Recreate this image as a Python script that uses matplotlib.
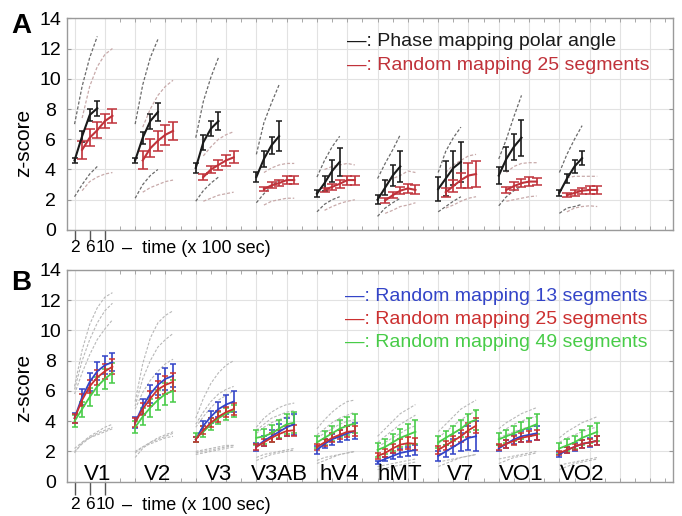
import matplotlib
matplotlib.use("Agg")
import matplotlib.pyplot as plt
import numpy as np
from matplotlib.ticker import MultipleLocator
from matplotlib.transforms import blended_transform_factory, ScaledTranslation

plt.rcParams["font.family"] = ["Liberation Sans", "DejaVu Sans"]

# ---- data ----
REGIONS = ["V1", "V2", "V3", "V3AB", "hV4", "hMT", "V7", "VO1", "VO2"]
GROUP_STEP = 16
PHASE_T = [2, 4, 6, 8]
RAND_T = [4, 6, 8, 10, 12]
B_T = [2, 4, 6, 8, 10, 12]

# panel A: phase mapping (black) vs random mapping 25 segments (red)
A_PHASE = [
    [4.6, 6.2, 7.6, 8.05], [4.6, 6.1, 7.2, 7.8], [4.1, 5.8, 6.7, 7.2],
    [3.5, 4.7, 5.6, 6.2], [2.4, 3.1, 3.9, 4.5], [2.0, 2.8, 3.6, 4.2],
    [2.7, 3.4, 4.1, 4.5], [3.6, 4.7, 5.5, 6.1], [2.45, 3.4, 4.2, 4.75],
]
A_PHASE_ERR = [
    [0.15, 0.35, 0.4, 0.5], [0.15, 0.4, 0.5, 0.6], [0.3, 0.5, 0.5, 0.6],
    [0.35, 0.55, 0.55, 1.0], [0.25, 0.5, 0.7, 0.95], [0.3, 0.5, 0.7, 1.0],
    [0.8, 1.15, 1.1, 1.35], [0.55, 0.8, 0.85, 1.2], [0.2, 0.3, 0.4, 0.45],
]
A_RAND = [
    [5.3, 6.1, 6.6, 7.2, 7.55], [4.6, 5.4, 5.9, 6.3, 6.55], [3.5, 4.0, 4.3, 4.6, 4.8],
    [2.7, 2.95, 3.1, 3.3, 3.3], [2.65, 2.85, 3.05, 3.3, 3.3], [1.95, 2.3, 2.6, 2.75, 2.65],
    [2.5, 2.9, 3.3, 3.6, 3.7], [2.65, 2.9, 3.1, 3.2, 3.2], [2.3, 2.45, 2.6, 2.65, 2.65],
]
A_RAND_ERR = [
    [0.6, 0.55, 0.55, 0.45, 0.45], [0.6, 0.6, 0.65, 0.65, 0.6], [0.2, 0.25, 0.35, 0.35, 0.4],
    [0.15, 0.2, 0.2, 0.25, 0.25], [0.15, 0.2, 0.25, 0.3, 0.3], [0.15, 0.2, 0.25, 0.3, 0.3],
    [0.3, 0.4, 0.5, 0.8, 0.85], [0.2, 0.25, 0.25, 0.3, 0.25], [0.15, 0.2, 0.2, 0.25, 0.25],
]
A_PHASE_HI = [
    [7.0, 9.5, 11.4, 12.8], [7.0, 9.6, 11.4, 12.6], [6.1, 8.5, 10.1, 11.4],
    [5.0, 7.1, 8.4, 9.6], [3.5, 4.6, 5.5, 6.2], [3.4, 4.4, 5.3, 6.3],
    [3.8, 5.2, 6.1, 6.8], [4.7, 6.0, 7.5, 8.9], [3.8, 5.0, 6.0, 6.9],
]
A_PHASE_LO = [
    [2.2, 3.0, 3.7, 4.2], [2.1, 3.0, 3.6, 4.0], [1.9, 2.6, 3.1, 3.5],
    [1.8, 2.4, 2.9, 3.3], [1.2, 1.7, 2.0, 2.2], [0.9, 1.45, 1.8, 2.1],
    [1.2, 1.55, 1.9, 2.2], [1.6, 2.2, 2.6, 2.9], [1.1, 1.45, 1.55, 1.7],
]
A_RAND_HI = [
    [7.4, 9.5, 10.8, 11.6, 12.0], [6.8, 8.0, 8.9, 9.5, 9.9], [4.9, 5.5, 6.0, 6.3, 6.5],
    [3.8, 4.1, 4.3, 4.4, 4.4], [4.0, 4.2, 4.3, 4.4, 4.3], [3.2, 3.4, 3.6, 3.9, 3.8],
    [3.8, 4.3, 4.6, 4.9, 5.0], [3.8, 4.2, 4.4, 4.45, 4.45], [3.45, 3.55, 3.55, 3.55, 3.55],
]
A_RAND_LO = [
    [2.6, 3.2, 3.5, 3.7, 3.8], [2.5, 2.8, 3.0, 3.2, 3.3], [1.9, 2.1, 2.3, 2.4, 2.5],
    [1.65, 1.9, 2.0, 2.1, 2.1], [1.3, 1.55, 1.75, 1.9, 2.0], [1.1, 1.3, 1.55, 1.65, 1.8],
    [1.45, 1.65, 1.9, 2.1, 2.2], [1.9, 2.0, 2.1, 2.2, 2.25], [1.2, 1.45, 1.55, 1.6, 1.55],
]

# panel B: random mapping with 13 / 25 / 49 segments
B_R13 = [
    [4.2, 5.6, 6.6, 7.3, 7.7, 7.9], [3.9, 5.0, 5.8, 6.4, 6.8, 7.0], [2.8, 3.7, 4.3, 4.8, 5.1, 5.3],
    [2.3, 2.7, 3.0, 3.3, 3.6, 3.8], [2.1, 2.5, 2.8, 3.0, 3.2, 3.35], [1.3, 1.5, 1.7, 1.9, 2.0, 2.1],
    [1.7, 2.0, 2.3, 2.6, 2.9, 3.0], [2.2, 2.5, 2.8, 3.0, 3.1, 3.2], [1.8, 2.1, 2.3, 2.5, 2.6, 2.7],
]
B_R25 = [
    [4.2, 5.4, 6.3, 6.9, 7.3, 7.6], [3.9, 4.8, 5.5, 6.1, 6.4, 6.6], [2.8, 3.4, 3.9, 4.3, 4.6, 4.8],
    [2.3, 2.6, 2.9, 3.15, 3.35, 3.4], [2.3, 2.6, 2.9, 3.1, 3.3, 3.35], [1.7, 1.9, 2.2, 2.45, 2.55, 2.5],
    [2.1, 2.4, 2.7, 3.0, 3.4, 3.7], [2.3, 2.5, 2.7, 2.9, 3.0, 3.1], [1.9, 2.1, 2.3, 2.5, 2.6, 2.7],
]
B_R49 = [
    [4.0, 4.8, 5.6, 6.3, 6.8, 7.2], [3.6, 4.3, 4.9, 5.4, 5.8, 6.0], [2.9, 3.3, 3.8, 4.2, 4.5, 4.7],
    [2.9, 3.0, 3.2, 3.5, 3.8, 3.9], [2.6, 2.9, 3.2, 3.5, 3.7, 3.85], [2.1, 2.3, 2.6, 2.9, 3.1, 3.3],
    [2.6, 2.9, 3.2, 3.5, 3.9, 4.1], [2.8, 3.0, 3.2, 3.4, 3.6, 3.8], [2.2, 2.4, 2.6, 2.9, 3.1, 3.3],
]
B_R13_ERR = [
    [0.35, 0.5, 0.6, 0.6, 0.6, 0.6], [0.35, 0.5, 0.6, 0.7, 0.75, 0.75], [0.15, 0.3, 0.4, 0.5, 0.6, 0.7],
    [0.25, 0.35, 0.4, 0.5, 0.6, 0.7], [0.25, 0.3, 0.35, 0.4, 0.45, 0.5], [0.1, 0.15, 0.2, 0.25, 0.3, 0.35],
    [0.3, 0.4, 0.5, 0.6, 0.8, 1.0], [0.2, 0.25, 0.3, 0.35, 0.4, 0.45], [0.15, 0.2, 0.25, 0.25, 0.3, 0.3],
]
B_R25_ERR = [
    [0.3, 0.4, 0.45, 0.5, 0.5, 0.5], [0.3, 0.4, 0.5, 0.55, 0.6, 0.6], [0.15, 0.25, 0.3, 0.35, 0.35, 0.4],
    [0.2, 0.25, 0.3, 0.3, 0.35, 0.35], [0.2, 0.25, 0.3, 0.3, 0.35, 0.35], [0.2, 0.25, 0.3, 0.35, 0.4, 0.4],
    [0.25, 0.3, 0.35, 0.4, 0.45, 0.5], [0.2, 0.25, 0.3, 0.3, 0.35, 0.35], [0.15, 0.2, 0.2, 0.25, 0.25, 0.3],
]
B_R49_ERR = [
    [0.4, 0.5, 0.6, 0.6, 0.65, 0.65], [0.4, 0.55, 0.6, 0.65, 0.7, 0.7], [0.3, 0.35, 0.4, 0.4, 0.4, 0.4],
    [0.5, 0.5, 0.55, 0.6, 0.65, 0.7], [0.4, 0.45, 0.5, 0.55, 0.6, 0.65], [0.45, 0.5, 0.55, 0.6, 0.7, 0.8],
    [0.4, 0.45, 0.5, 0.55, 0.6, 0.65], [0.4, 0.45, 0.5, 0.55, 0.6, 0.65], [0.35, 0.4, 0.45, 0.5, 0.55, 0.6],
]
B_HI = [
    [[6.3, 8.7, 10.4, 11.5, 12.2, 12.5], [6.1, 8.0, 9.4, 10.5, 11.3, 11.8], [5.8, 7.2, 8.4, 9.4, 10.1, 10.7]],
    [[5.3, 7.8, 9.5, 10.5, 11.0, 11.3], [5.0, 6.8, 8.0, 8.9, 9.4, 9.8], [4.8, 5.9, 6.7, 7.3, 7.8, 8.1]],
    [[4.2, 5.5, 6.5, 7.2, 7.7, 8.0], [3.8, 4.6, 5.3, 5.8, 6.1, 6.3], [3.6, 4.3, 4.9, 5.4, 5.7, 6.0]],
    [[3.6, 4.2, 4.6, 4.9, 5.1, 5.2], [3.4, 3.8, 4.2, 4.4, 4.6, 4.7], [3.2, 3.6, 3.9, 4.1, 4.3, 4.4]],
    [[3.5, 4.1, 4.6, 5.0, 5.3, 5.4], [3.1, 3.5, 3.9, 4.2, 4.4, 4.6], [2.9, 3.2, 3.5, 3.8, 4.0, 4.1]],
    [[3.0, 3.5, 4.0, 4.5, 4.8, 5.1], [2.6, 3.0, 3.4, 3.8, 4.1, 4.4], [2.3, 2.6, 2.9, 3.2, 3.5, 3.7]],
    [[3.3, 3.8, 4.3, 4.8, 5.1, 5.4], [2.9, 3.3, 3.7, 4.1, 4.4, 4.7], [2.5, 2.9, 3.2, 3.5, 3.8, 4.1]],
    [[3.5, 3.9, 4.2, 4.5, 4.7, 4.9], [3.2, 3.5, 3.8, 4.0, 4.2, 4.3], [2.9, 3.1, 3.3, 3.5, 3.6, 3.7]],
    [[2.9, 3.3, 3.6, 3.9, 4.1, 4.3], [2.6, 2.9, 3.1, 3.3, 3.5, 3.6]],
]
B_LO = [
    [[1.9, 2.6, 3.0, 3.3, 3.6, 3.8], [2.0, 2.5, 2.9, 3.2, 3.4, 3.6], [2.2, 2.6, 2.9, 3.1, 3.3, 3.5]],
    [[1.6, 2.2, 2.6, 2.9, 3.1, 3.3], [1.9, 2.3, 2.6, 2.8, 3.0, 3.2], [2.0, 2.3, 2.5, 2.7, 2.9, 3.0]],
    [[1.8, 1.9, 2.0, 2.1, 2.2, 2.3], [1.9, 2.0, 2.1, 2.2, 2.3, 2.4], [2.0, 2.1, 2.2, 2.3, 2.4, 2.4]],
    [[1.4, 1.6, 1.8, 1.9, 2.0, 2.1], [1.6, 1.8, 1.9, 2.0, 2.1, 2.2]],
    [[1.2, 1.4, 1.6, 1.8, 1.9, 2.0], [1.4, 1.6, 1.7, 1.8, 1.9, 2.0]],
    [[0.8, 0.9, 1.0, 1.1, 1.2, 1.3], [1.0, 1.1, 1.2, 1.3, 1.4, 1.5]],
    [[1.0, 1.2, 1.4, 1.6, 1.7, 1.8], [1.3, 1.4, 1.5, 1.6, 1.7, 1.8]],
    [[1.2, 1.4, 1.6, 1.7, 1.8, 1.9], [1.5, 1.6, 1.7, 1.8, 1.9, 2.0]],
    [[0.8, 1.0, 1.2, 1.3, 1.4, 1.5], [1.1, 1.2, 1.3, 1.4, 1.5, 1.6]],
]

BLACK = "#1a1a1a"
RED_A = "#c0323a"
BLUE = "#3344c8"
RED_B = "#cc3030"
GREEN = "#48cc48"
DASH_DARK = "#6a6a6a"
DASH_PINK = "#c8aaaa"
DASH_LIGHT = "#b8b8b8"


def style_axes(ax, tick_len, label_pad):
    ax.set_xlim(0, 160)
    ax.set_ylim(0, 14)
    for s in ax.spines.values():
        s.set_color("#9a9a9a")
        s.set_linewidth(1.0)
    # vertical grid every 8 units, horizontal every 2
    for gx in np.arange(2, 160, 8):
        ax.axvline(gx, color="#e2e2e2", lw=0.8, zorder=0)
    ax.set_yticks(np.arange(0, 15, 2))
    ax.yaxis.grid(True, color="#e2e2e2", lw=0.8)
    ax.set_axisbelow(True)
    ax.tick_params(axis="y", direction="in", length=3, right=True, labelsize=14,
                   pad=12, colors="#9a9a9a", labelcolor="black")
    for lab in ax.get_yticklabels():
        lab.set_horizontalalignment("center")
    ax.set_xticks([2, 6, 10], ["2", "6", "10"])
    ax.xaxis.set_minor_locator(MultipleLocator(4, offset=2))
    ax.tick_params(axis="x", which="major", direction="out", length=tick_len, width=1.0,
                   labelsize=12.5, pad=label_pad, color="#555555")
    ax.tick_params(axis="x", which="minor", direction="in", length=3, top=True,
                   color="#9a9a9a")
    off = ScaledTranslation(0, -(tick_len + label_pad) / 72, ax.figure.dpi_scale_trans)
    trans = blended_transform_factory(ax.transData, ax.transAxes) + off
    ax.text(14.5, 0, "\u2013  time (x 100 sec)", transform=trans, fontsize=13,
            ha="left", va="top")


def errline(ax, x, y, e, color, lw=1.4, cap=2.5):
    ax.errorbar(x, y, yerr=e, color=color, lw=lw, elinewidth=1.2, capsize=cap,
                capthick=1.1, zorder=3)


fig = plt.figure(figsize=(6.82, 5.16), dpi=100)
axA = fig.add_axes([0.0982, 0.5543, 0.8886, 0.4103])
axB = fig.add_axes([0.0982, 0.0665, 0.8886, 0.4103])

# ---- panel A ----
for i in range(len(REGIONS)):
    off = i * GROUP_STEP
    xp = np.array(PHASE_T) + off
    xr = np.array(RAND_T) + off
    dash = dict(lw=0.9, ls=(0, (2.5, 1.5)), zorder=2)
    axA.plot(xp, A_PHASE_HI[i], color=DASH_DARK, **dash)
    axA.plot(xp, A_PHASE_LO[i], color=DASH_DARK, **dash)
    axA.plot(xr, A_RAND_HI[i], color=DASH_PINK, **dash)
    axA.plot(xr, A_RAND_LO[i], color=DASH_PINK, **dash)
    errline(axA, xp, A_PHASE[i], A_PHASE_ERR[i], BLACK, lw=1.5)
    errline(axA, xr, A_RAND[i], A_RAND_ERR[i], RED_A, lw=1.5, cap=3.5)
style_axes(axA, tick_len=7, label_pad=0.5)
axA.text(0.462, 0.888, "\u2014: Phase mapping polar angle", transform=axA.transAxes,
         fontsize=14, color=BLACK, va="center")
axA.text(0.462, 0.779, "\u2014: Random mapping 25 segments", transform=axA.transAxes,
         fontsize=14, color=RED_A, va="center")

# ---- panel B ----
for i, region in enumerate(REGIONS):
    off = i * GROUP_STEP
    xb = np.array(B_T) + off
    for line in B_HI[i] + B_LO[i]:
        axB.plot(xb, line, color=DASH_LIGHT, lw=0.8, ls=(0, (2.5, 1.5)), zorder=2)
    errline(axB, xb, B_R13[i], B_R13_ERR[i], BLUE, lw=1.3, cap=2)
    errline(axB, xb, B_R49[i], B_R49_ERR[i], GREEN, lw=1.3, cap=2)
    errline(axB, xb, B_R25[i], B_R25_ERR[i], RED_B, lw=1.3, cap=2)
    axB.text(8 + off, 0.1, region, fontsize=16, ha="center", va="baseline", zorder=4)
style_axes(axB, tick_len=9, label_pad=2)
axB.text(0.459, 0.874, "\u2014: Random mapping 13 segments", transform=axB.transAxes,
         fontsize=14, color=BLUE, va="center")
axB.text(0.459, 0.765, "\u2014: Random mapping 25 segments", transform=axB.transAxes,
         fontsize=14, color=RED_B, va="center")
axB.text(0.459, 0.656, "\u2014: Random mapping 49 segments", transform=axB.transAxes,
         fontsize=14, color=GREEN, va="center")

# panel letters and y labels
fig.text(0.017, 0.975, "A", fontsize=20, fontweight="bold", va="top")
fig.text(0.017, 0.477, "B", fontsize=20, fontweight="bold", va="top")
fig.text(24 / 682, 1 - 143 / 516, "z-score", rotation=90, fontsize=15, ha="center", va="center")
fig.text(24 / 682, 1 - 388 / 516, "z-score", rotation=90, fontsize=15, ha="center", va="center")

fig.savefig("out.png", dpi=100)
